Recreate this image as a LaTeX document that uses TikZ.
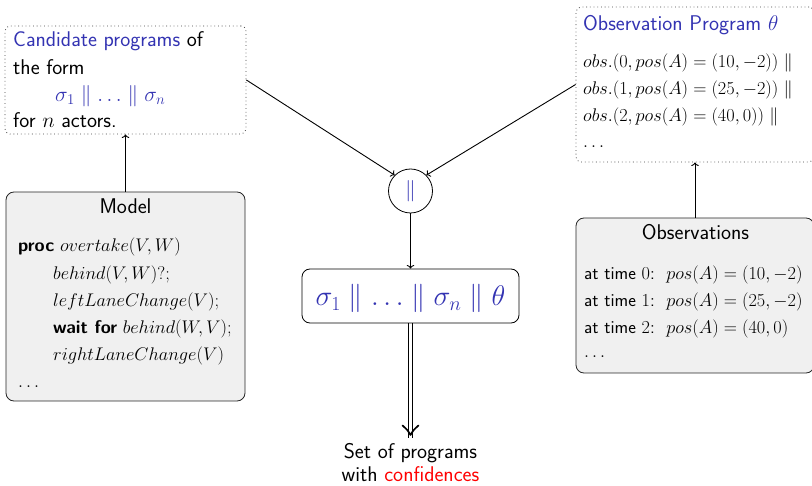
\RequirePackage{fix-cm}
\documentclass[tikz,border=0pt]{standalone}
\usetikzlibrary{arrows.meta}
\renewcommand{\familydefault}{\sfdefault}
\definecolor{struct}{rgb}{0.2,0.2,0.7}
\definecolor{boxfill}{gray}{0.94}
\begin{document}
\begin{tikzpicture}[x=1pt,y=-1pt,
  dotbox/.style={draw=black!75, line width=0.8pt, dash pattern=on 0.8pt off 2.9pt, rounded corners=5pt, inner sep=0},
  graybox/.style={draw=black!85, fill=boxfill, line width=0.8pt, rounded corners=8pt, inner sep=0},
  basefont/.style={font=\fontsize{21.3}{26}\selectfont},
  smallfont/.style={font=\fontsize{18.3}{22}\selectfont},
  bigfont/.style={font=\fontsize{28.4}{34}\selectfont},
  txt/.style={anchor=base west, inner sep=0},
  ctxt/.style={anchor=base, inner sep=0},
  conn/.style={line width=0.9pt, ->},
  dblline/.style={line width=0.9pt},
  dbltip/.style={line width=1.7pt, line cap=round, line join=round},
]
\useasboundingbox (0,0) rectangle (812,486);
\clip (0,0) rectangle (812,486);

% boxes
\node[dotbox, minimum width=241, minimum height=108] (cand) at (125.5,80) {};
\node[dotbox, minimum width=238, minimum height=155] (obsprog) at (695,84.5) {};
\node[graybox, minimum width=239, minimum height=209] (model) at (125.5,296.5) {};
\node[graybox, minimum width=238, minimum height=155] (observ) at (695,295.5) {};
\node[circle, draw, line width=0.8pt, minimum size=44, inner sep=0, text=struct, basefont] (par) at (410.5,191) {$\|$};
\node[draw, line width=0.8pt, rounded corners=8pt, minimum width=217, minimum height=54, inner sep=0] (comb) at (410.5,296) {};

% candidate programs
\node[txt, basefont] (c1) at (13,47) {\textcolor{struct}{Candidate programs} of};
\node[txt, basefont] (c2) at (13,74.3) {the form};
\node[txt, basefont, text=struct] (c3) at (55,101.7) {$\sigma_1 \parallel \ldots \parallel \sigma_n$};
\node[txt, basefont] (c4) at (13,127.3) {for $n$ actors.};

% observation program
\node[txt, basefont, text=struct] (o0) at (583,30.5) {Observation Program $\theta$};
\node[txt, smallfont] (o1) at (583,68) {$obs.(0, pos(A) = (10,-2)) \parallel$};
\node[txt, smallfont] (o2) at (583,95) {$obs.(1, pos(A) = (25,-2)) \parallel$};
\node[txt, smallfont] (o3) at (583,121.7) {$obs.(2, pos(A) = (40,0)) \parallel$};
\node[txt, smallfont] (o4) at (583,148) {$\ldots$};

% model
\node[ctxt, basefont] (m0) at (125.5,213.3) {Model};
\node[txt, smallfont] (m1) at (18,252) {\textbf{proc} $overtake(V,W)$};
\node[txt, smallfont] (m2) at (53,279.5) {$behind(V,W)?;$};
\node[txt, smallfont] (m3) at (53,306.5) {$leftLaneChange(V);$};
\node[txt, smallfont] (m4) at (53,333.5) {\textbf{wait for} $behind(W,V);$};
\node[txt, smallfont] (m5) at (53,360.5) {$rightLaneChange(V)$};
\node[txt, smallfont] (m6) at (18,388) {$\ldots$};

% observations
\node[ctxt, basefont] (b0) at (695.5,240) {Observations};
\node[txt, smallfont] (b1) at (584,279.5) {at time $0$:\ \ $pos(A) = (10,-2)$};
\node[txt, smallfont] (b2) at (584,306.5) {at time $1$:\ \ $pos(A) = (25,-2)$};
\node[txt, smallfont] (b3) at (584,333.5) {at time $2$:\ \ $pos(A) = (40,0)$};
\node[txt, smallfont] (b4) at (584,358) {$\ldots$};

% combined program
\node[ctxt, bigfont, text=struct] (combtxt) at (410.5,306) {$\sigma_1 \parallel \ldots \parallel \sigma_n \parallel \theta$};

% result
\node[ctxt, basefont] (r1) at (410.5,458.3) {Set of programs};
\node[ctxt, basefont] (r2) at (410.5,481.5) {with \textcolor{red}{confidences}};
\coordinate (tip) at ([yshift=8pt]r1.north);

% connectors
\draw[conn] (model.north) -- (cand.south);
\draw[conn] (observ.north) -- (obsprog.south);
\draw[conn] (cand.east) -- (par.north west);
\draw[conn] (obsprog.west) -- (par.north east);
\draw[conn] (par.south) -- (comb.north);
% double arrow to the result
\draw[dblline] ([xshift=-1.6pt]comb.south) -- ([xshift=-1.6pt,yshift=-3pt]tip);
\draw[dblline] ([xshift=1.6pt]comb.south) -- ([xshift=1.6pt,yshift=-3pt]tip);
\draw[dbltip] ([shift={(-8,-9.5)}]tip) .. controls ([shift={(-3,-5)}]tip) .. (tip)
  .. controls ([shift={(3,-5)}]tip) .. ([shift={(8,-9.5)}]tip);
\end{tikzpicture}
\end{document}
